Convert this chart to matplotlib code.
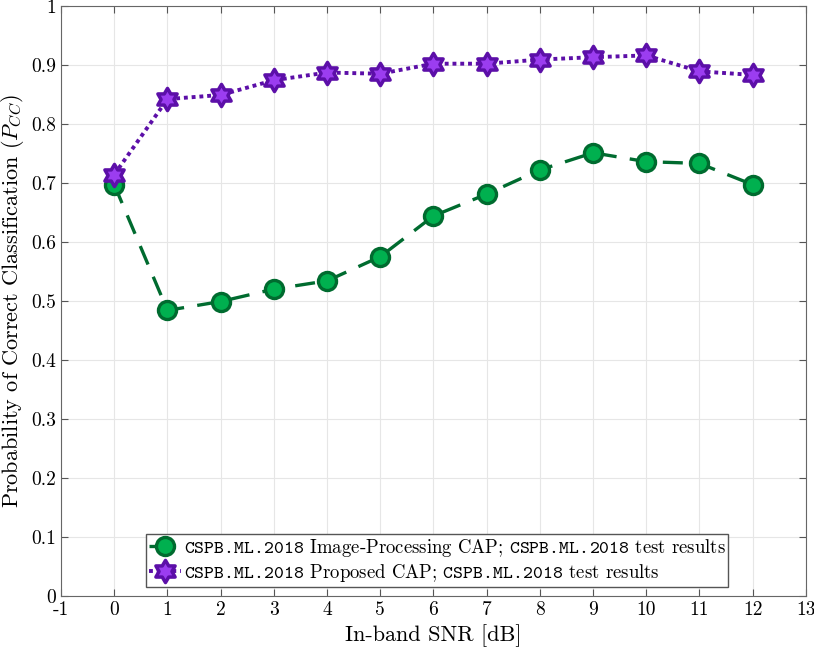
import numpy as np
import matplotlib
matplotlib.use("Agg")
import matplotlib.pyplot as plt
from matplotlib.path import Path

snr = [0, 1, 2, 3, 4, 5, 6, 7, 8, 9, 10, 11, 12]
pcc_image = [0.697, 0.484, 0.499, 0.520, 0.534, 0.575, 0.644, 0.681, 0.722, 0.751, 0.736, 0.733, 0.697]
pcc_proposed = [0.714, 0.842, 0.849, 0.874, 0.887, 0.885, 0.902, 0.902, 0.909, 0.913, 0.916, 0.889, 0.883]
xticks = list(range(-1, 14))
yticks = [0, 0.1, 0.2, 0.3, 0.4, 0.5, 0.6, 0.7, 0.8, 0.9, 1]
ytick_labels = ["0", "0.1", "0.2", "0.3", "0.4", "0.5", "0.6", "0.7", "0.8", "0.9", "1"]
dataset = r"$\mathtt{CSPB.\!ML.\!2018}$"
label_image = dataset + " Image-Processing CAP; " + dataset + " test results"
label_proposed = dataset + " Proposed CAP; " + dataset + " test results"

plt.rcParams['font.family'] = ['cmr10', 'DejaVu Serif']
plt.rcParams['mathtext.fontset'] = 'cm'
plt.rcParams['mathtext.tt'] = 'cmtt10'
plt.rcParams['mathtext.rm'] = 'cmr10'
plt.rcParams['axes.formatter.use_mathtext'] = True

# hexagram marker
verts = []
for k in range(12):
    ang = np.pi / 2 + k * np.pi / 6
    r = 1.0 if k % 2 == 0 else 0.58
    verts.append((r * np.cos(ang), r * np.sin(ang)))
verts.append(verts[0])
codes = [Path.MOVETO] + [Path.LINETO] * 11 + [Path.CLOSEPOLY]
hexagram = Path(verts, codes)

fig = plt.figure(figsize=(8.14, 6.51), dpi=100)
ax = fig.add_axes([0.075, 0.0845, 0.915, 0.9065])

ax.plot(snr, pcc_image, linestyle=(0, (6, 4)), color='#006b2f', linewidth=2.4,
        marker='o', markersize=13, markerfacecolor='#00b04f', markeredgecolor='#006b2f',
        markeredgewidth=2.4, label=label_image, zorder=3)
ax.plot(snr, pcc_proposed, linestyle=(0, (1, 1)), color='#5c0fa8', linewidth=2.8,
        marker=hexagram, markersize=16, markerfacecolor='#9b3df0', markeredgecolor='#5c0fa8',
        markeredgewidth=2.5, label=label_proposed, zorder=4)

ax.set_xlim(-1, 13)
ax.set_ylim(0, 1)
ax.set_xticks(xticks)
ax.set_xticklabels([str(t) if t >= 0 else "-1" for t in xticks])
ax.set_yticks(yticks)
ax.set_yticklabels(ytick_labels)
ax.tick_params(direction='in', top=True, right=True, labelsize=14, length=5, color='#555555')
ax.grid(True, color='#e6e6e6', linewidth=0.8)
ax.set_axisbelow(True)
for s in ax.spines.values():
    s.set_color('#666666')
ax.set_xlabel("In-band SNR [dB]", fontsize=16)
ax.set_ylabel(r"Probability of Correct Classification ($P_{CC}$)", fontsize=16)

leg = ax.legend(loc='lower center', bbox_to_anchor=(0.505, 0.0), fontsize=13.5,
                frameon=True, fancybox=False, edgecolor='#555555', framealpha=1,
                borderpad=0.15, labelspacing=0.15, handlelength=1.7, handletextpad=0.15,
                borderaxespad=0.5)
leg.get_frame().set_linewidth(1.0)
for t in leg.get_texts():
    t.set_math_fontfamily('custom')

fig.savefig("out.png", dpi=100)
